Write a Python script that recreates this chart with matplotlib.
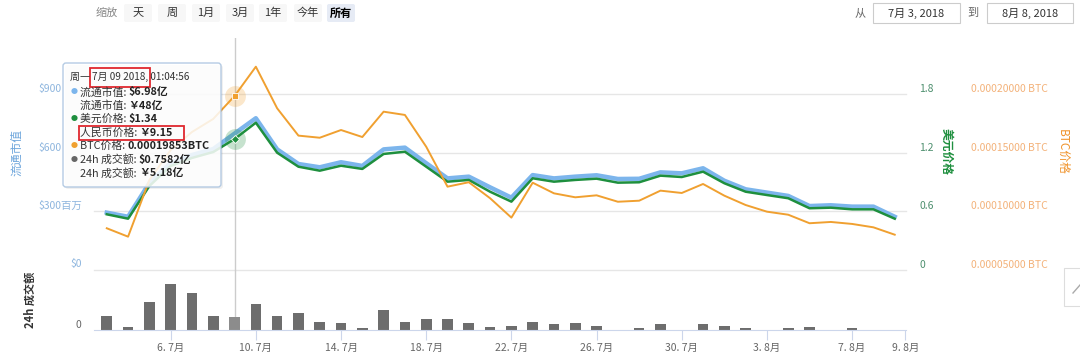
import matplotlib.pyplot as plt
import numpy as np
from matplotlib.patches import FancyBboxPatch, Rectangle
from matplotlib.transforms import offset_copy, blended_transform_factory

plt.rcParams['font.family'] = ['Noto Sans CJK SC', 'DejaVu Sans']

# daily points, 3 Jul 2018 .. 9 Aug 2018
days = list(range(38))
hover_day = 6  # 7月 09 2018

# market cap, million USD
market_cap = [292, 271, 444, 547, 588, 619, 698, 777, 617, 542,
              525, 551, 532, 617, 626, 546, 468, 477, 422, 369,
              485, 468, 477, 484, 465, 466, 499, 494, 520, 456,
              412, 395, 378, 326, 330, 323, 323, 271]

# price, USD
usd_price = [0.567, 0.522, 0.858, 1.063, 1.146, 1.207, 1.340, 1.508, 1.200, 1.056,
             1.015, 1.066, 1.033, 1.187, 1.210, 1.056, 0.902, 0.920, 0.799, 0.697,
             0.937, 0.902, 0.920, 0.933, 0.892, 0.896, 0.964, 0.950, 1.005, 0.886,
             0.799, 0.765, 0.732, 0.629, 0.635, 0.618, 0.618, 0.522]

# price, BTC
btc_price = [0.0000853, 0.0000781, 0.0001266, 0.0001523, 0.0001677, 0.0001789,
             0.00019853, 0.0002236, 0.0001880, 0.0001646, 0.0001628, 0.0001694,
             0.0001634, 0.0001851, 0.0001823, 0.0001551, 0.0001209, 0.0001247,
             0.0001110, 0.0000944, 0.0001243, 0.0001152, 0.0001118, 0.0001135,
             0.0001080, 0.0001089, 0.0001175, 0.0001155, 0.0001232, 0.0001132,
             0.0001052, 0.0000995, 0.0000969, 0.0000896, 0.0000907, 0.0000890,
             0.0000861, 0.0000798]

# 24h volume, 亿 USD
volume = [0.84, 0.16, 1.66, 2.71, 2.15, 0.84, 0.7582, 1.55, 0.84, 1.00,
          0.46, 0.40, 0.12, 1.16, 0.46, 0.66, 0.66, 0.40, 0.16, 0.22,
          0.46, 0.34, 0.40, 0.22, 0.04, 0.10, 0.34, 0.04, 0.34, 0.22,
          0.10, 0.04, 0.10, 0.16, 0.04, 0.10, 0.01, 0.04]

date_ticks = [3, 7, 11, 15, 19, 23, 27, 31, 35, 37.5]
date_labels = ['6. 7月', '10. 7月', '14. 7月', '18. 7月', '22. 7月',
               '26. 7月', '30. 7月', '3. 8月', '7. 8月', '9. 8月']

cap_ticks = [0, 300, 600, 900]
cap_labels = ['$0', '$300百万', '$600', '$900']
usd_ticks = [0, 0.6, 1.2, 1.8]
usd_labels = ['0', '0.6', '1.2', '1.8']
btc_ticks = [0.00005, 0.0001, 0.00015, 0.0002]
btc_labels = ['0.00005000 BTC', '0.00010000 BTC', '0.00015000 BTC', '0.00020000 BTC']

tooltip_date = '7月 09 2018,'
tooltip_rows = [
    ('#7cb5ec', '流通市值: ', '$6.98亿'),
    (None, '流通市值: ', '￥48亿'),
    ('#1e8f3e', '美元价格: ', '$1.34'),
    (None, '人民币价格: ', '￥9.15'),
    ('#f0a030', 'BTC价格: ', '0.00019853BTC'),
    ('#666666', '24h 成交额: ', '$0.7582亿'),
    (None, '24h 成交额: ', '￥5.18亿'),
]

BLUE = '#7cb5ec'
GREEN = '#1e8f3e'
ORANGE = '#f0a030'
W, H = 1080, 353

fig = plt.figure(figsize=(W / 100, H / 100), dpi=100)


def frac(x0, y0, x1, y1):
    return [x0 / W, 1 - y1 / H, (x1 - x0) / W, (y1 - y0) / H]


def side_text(a, xf, dx, y, s, dy=5, **kw):
    tr = offset_copy(blended_transform_factory(a.transAxes, a.transData),
                     fig=fig, x=dx, y=dy, units='dots')
    a.text(xf, y, s, transform=tr, clip_on=False, va='center', **kw)


# price panel
ax = fig.add_axes(frac(94, 38, 906, 269.5))
ax2 = ax.twinx()
ax3 = ax.twinx()
top_cap = 1189
ax.set_xlim(-0.6, 37.53)
ax.set_ylim(0, top_cap)
ax2.set_ylim(0, top_cap / 500)
ax3.set_ylim(0.00005, 0.00005 + top_cap / 300 * 0.00005)
for a in (ax, ax2, ax3):
    a.set_axis_off()

for v in cap_ticks:
    ax.axhline(v, color='#e6e6e6', lw=1, zorder=0, clip_on=False)
ax.axvline(hover_day, color='#cccccc', lw=1, zorder=1)

ax.plot(days, market_cap, color=BLUE, lw=3.2, zorder=2, solid_joinstyle='round')
ax2.plot(days, usd_price, color=GREEN, lw=1.8, solid_joinstyle='round')
ax3.plot(days, btc_price, color=ORANGE, lw=1.4, solid_joinstyle='round')

ax2.plot(hover_day, usd_price[hover_day], 'o', ms=15, color=GREEN, alpha=0.25, mec='none')
ax2.plot(hover_day, usd_price[hover_day], 'D', ms=4, color=GREEN, mec='white', mew=0.6)
ax3.plot(hover_day, btc_price[hover_day], 'o', ms=15, color=ORANGE, alpha=0.25, mec='none')
ax3.plot(hover_day, btc_price[hover_day], 's', ms=5, color=ORANGE, mec='white', mew=0.6)

for v, s in zip(cap_ticks, cap_labels):
    side_text(ax, 0, -24 if v == 0 else -56, v, s, ha='left', fontsize=7.5, color='#8db5de')
for v, s in zip(usd_ticks, usd_labels):
    side_text(ax2, 1, 13, v, s, ha='left', fontsize=7.5, color='#4d8f6e')
for v, s in zip(btc_ticks, btc_labels):
    side_text(ax3, 1, 65, v, s, ha='left', fontsize=7.5, color='#f3b27a')

# volume panel
axv = fig.add_axes(frac(94, 269.5, 906, 330.2))
axv.patch.set_alpha(0)
axv.set_xlim(-0.6, 37.53)
axv.set_ylim(0, 3.54)
bar_colors = ['#8c8c8c' if d == hover_day else '#6d6d6d' for d in days]
axv.bar(days, volume, width=0.5, color=bar_colors, zorder=2)
axv.axvline(hover_day, color='#cccccc', lw=1, zorder=1)
for side in ('left', 'right', 'top'):
    axv.spines[side].set_visible(False)
axv.spines['bottom'].set_color('#ccd6eb')
axv.set_yticks([])
axv.set_xticks(date_ticks)
axv.set_xticklabels(date_labels)
axv.tick_params(axis='x', length=7, color='#ccd6eb', labelsize=7.5,
                labelcolor='#666666', pad=2)
side_text(axv, 0, -15.5, 0, '0', dy=5.5, ha='center', fontsize=7.5, color='#666666')

# overlay in pixel space: axis titles, toolbar, tooltip
ov = fig.add_axes([0, 0, 1, 1], zorder=10)
ov.set_xlim(0, W)
ov.set_ylim(H, 0)
ov.set_axis_off()
ov.patch.set_alpha(0)

ov.text(17, 153, '流通市值', rotation=90, ha='center', va='center', fontsize=8.5, color='#6ea6dc')
ov.text(946, 152, '美元价格', rotation=270, ha='center', va='center', fontsize=8.5,
        color=GREEN, fontweight='bold')
ov.text(1062, 152, 'BTC价格', rotation=270, ha='center', va='center', fontsize=8.5, color='#f0932b')
ov.text(30, 300, '24h 成交额', rotation=90, ha='center', va='center', fontsize=8,
        color='#333333', fontweight='bold')

ov.text(107, 13, '缩放', ha='center', va='center', fontsize=8, color='#888888')
buttons = [('天', 138), ('周', 172), ('1月', 206), ('3月', 240), ('1年', 273), ('今年', 308), ('所有', 341)]
for s, cx in buttons:
    sel = s == '所有'
    ov.add_patch(FancyBboxPatch((cx - 14, 4), 28, 18, boxstyle='round,pad=0,rounding_size=2',
                                fc='#e6ebf5' if sel else '#f7f7f7', ec='none'))
    ov.text(cx, 13, s, ha='center', va='center', fontsize=8,
            color='#000000' if sel else '#333333', fontweight='bold' if sel else 'normal')

ov.text(860, 13, '从', ha='center', va='center', fontsize=8, color='#666666')
ov.text(973, 13, '到', ha='center', va='center', fontsize=8, color='#666666')
for x0, x1, s in [(873, 960, '7月 3, 2018'), (987, 1073, '8月 8, 2018')]:
    ov.add_patch(Rectangle((x0, 3), x1 - x0, 20, fc='white', ec='#cccccc', lw=0.8))
    ov.text((x0 + x1) / 2, 13, s, ha='center', va='center', fontsize=8, color='#333333')

# side button
ov.add_patch(Rectangle((1064, 268), 20, 38, fc='white', ec='#dddddd', lw=0.8))
ov.plot([1073, 1080], [293, 285], color='#aaaaaa', lw=1)

# tooltip
ov.add_patch(FancyBboxPatch((65, 65), 158, 124, boxstyle='round,pad=0,rounding_size=3',
                            fc='#000000', ec='none', alpha=0.06))
ov.add_patch(FancyBboxPatch((63, 63), 158, 124, boxstyle='round,pad=0,rounding_size=3',
                            fc='white', ec='#a8c2df', lw=1, alpha=0.85))
t0 = ov.text(70, 77, '周一 ', ha='left', va='center', fontsize=7.2, color='#333333')
fig.canvas.draw()
rend = fig.canvas.get_renderer()
inv = ov.transData.inverted()


def right_edge(t):
    bb = t.get_window_extent(rend)
    return inv.transform((bb.x1, bb.y0))[0]


t1 = ov.text(right_edge(t0), 77, tooltip_date + ' 01:04:56', ha='left', va='center',
             fontsize=7.2, color='#333333')
row_y = 92
for bullet, lab, val in tooltip_rows:
    if bullet:
        ov.text(74, row_y, '●', ha='center', va='center', fontsize=5, color=bullet)
    tl = ov.text(80, row_y, lab, ha='left', va='center', fontsize=7.8, color='#333333')
    ov.text(right_edge(tl), row_y, val, ha='left', va='center', fontsize=7.8,
            color='#222222', fontweight='bold')
    row_y += 13.5

# red highlight boxes
ov.add_patch(Rectangle((90, 68), 60, 19, fc='none', ec='#e0282e', lw=1.3))
ov.add_patch(Rectangle((79, 125.5), 105, 14.5, fc='none', ec='#e0282e', lw=1.3))

fig.savefig('out.png', dpi=100)
